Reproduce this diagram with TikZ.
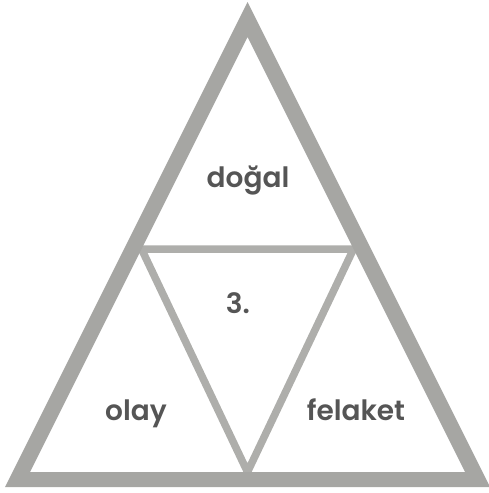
\documentclass[tikz,border=0pt]{standalone}
\usepackage{fontspec}
\setmainfont{Poppins}[BoldFont={Poppins SemiBold}]
\usepackage{tikz}
\definecolor{cSilver}{RGB}{166,166,163}
\definecolor{cSilverLt}{RGB}{174,174,171}
\definecolor{cText}{RGB}{85,85,85}
\tikzset{
  bandfill/.style={fill=cSilver,even odd rule},
  midline/.style={draw=cSilverLt,line width=7.5pt,line join=miter},
  wordnode/.style={font=\fontsize{28}{32}\selectfont\bfseries,
                   text=cText,inner sep=0pt,anchor=base}
}

\begin{document}
\begin{tikzpicture}[x=1pt,y=-1pt]

  \useasboundingbox (0,0) rectangle (488,493);

  % Outer triangle, outside edge
  \coordinate (top) at (247.5,2);
  \coordinate (bl)  at (5,487);
  \coordinate (br)  at (490,487);
  % Outer triangle, inside edge
  \coordinate (itop) at (247.5,37);
  \coordinate (ibl)  at (30,472);
  \coordinate (ibr)  at (465,472);
  % Middle (upside down) triangle
  \coordinate (ml) at (141.5,249);
  \coordinate (mr) at (353.5,249);
  \coordinate (mb) at (247.5,472);

  \draw[midline] (ml) -- (mr) -- (mb) -- cycle;
  \fill[bandfill] (top) -- (bl) -- (br) -- cycle
                  (itop) -- (ibl) -- (ibr) -- cycle;

  % Labels
  \node[wordnode] (dogal)   at (248,187) {doğal};
  \node[wordnode] (num)     at (238,313) {3.};
  \node[wordnode] (olay)    at (136,420) {olay};
  \node[wordnode] (felaket) at (356,420) {felaket};

\end{tikzpicture}
\end{document}
